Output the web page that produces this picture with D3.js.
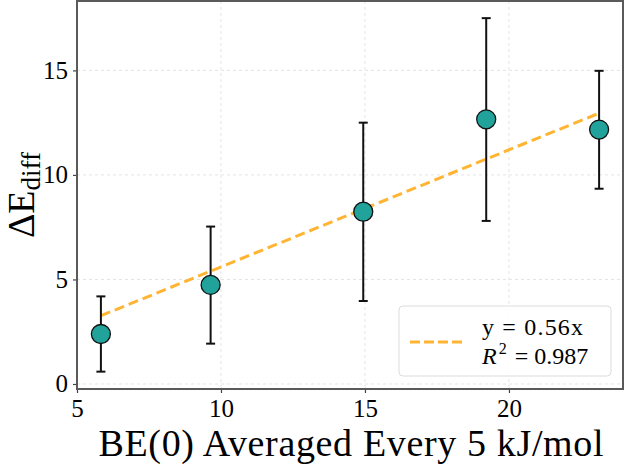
<!DOCTYPE html>
<html>
<head>
<meta charset="utf-8">
<script src="https://cdn.jsdelivr.net/npm/d3@7.9.0/dist/d3.min.js"></script>
<style>
  html, body { margin: 0; padding: 0; background: #fff; }
  svg text { font-family: "Liberation Serif", "Times New Roman", serif; fill: #000; }
</style>
</head>
<body>
<svg id="chart" width="625" height="464"></svg>
<script>
// ---- data ----
const beAvg   = [5.83, 9.64, 14.94, 19.21, 23.13];
const deltaE  = [2.39, 4.74, 8.24, 12.66, 12.17];
const errLow  = [0.59, 1.93, 3.97, 7.80, 9.34];
const errHigh = [4.19, 7.53, 12.50, 17.50, 14.98];
const slope = 0.56;
const xTicks = [5, 10, 15, 20];
const yTicks = [0, 5, 10, 15];
const legendLines = ['y = 0.56x', 'R2 = 0.987'];

const points = beAvg.map((x, i) => ({ x, y: deltaE[i], lo: errLow[i], hi: errHigh[i] }));

const svg = d3.select('#chart');
const plot = { left: 77, right: 623, top: 1, bottom: 389 };

const x = d3.scaleLinear().domain([5, 23.96]).range([plot.left, plot.right]);
const y = d3.scaleLinear().domain([-0.24, 18.32]).range([plot.bottom, plot.top]);

// gridlines
const grid = svg.append('g').attr('class', 'grid')
  .attr('stroke', '#e4e4e4').attr('stroke-width', 1).attr('stroke-dasharray', '3,3');
grid.selectAll('line.gx').data(xTicks).join('line')
  .attr('x1', d => x(d)).attr('x2', d => x(d))
  .attr('y1', plot.top).attr('y2', plot.bottom);
grid.selectAll('line.gy').data(yTicks).join('line')
  .attr('x1', plot.left).attr('x2', plot.right)
  .attr('y1', d => y(d)).attr('y2', d => y(d));

// fit line (orange dashed)
const fitX = d3.extent(beAvg);
svg.append('line')
  .attr('x1', x(fitX[0])).attr('y1', y(slope * fitX[0]))
  .attr('x2', x(fitX[1])).attr('y2', y(slope * fitX[1]))
  .attr('stroke', '#ffb533').attr('stroke-width', 3)
  .attr('stroke-dasharray', '10,5');

// error bars
const eb = svg.append('g').attr('stroke', '#111').attr('stroke-width', 2);
eb.selectAll('line.v').data(points).join('line')
  .attr('x1', d => x(d.x)).attr('x2', d => x(d.x))
  .attr('y1', d => y(d.lo)).attr('y2', d => y(d.hi));
eb.selectAll('line.capH').data(points).join('line')
  .attr('x1', d => x(d.x) - 4.5).attr('x2', d => x(d.x) + 4.5)
  .attr('y1', d => y(d.hi)).attr('y2', d => y(d.hi));
eb.selectAll('line.capL').data(points).join('line')
  .attr('x1', d => x(d.x) - 4.5).attr('x2', d => x(d.x) + 4.5)
  .attr('y1', d => y(d.lo)).attr('y2', d => y(d.lo));

// markers
svg.append('g').selectAll('circle').data(points).join('circle')
  .attr('cx', d => x(d.x)).attr('cy', d => y(d.y)).attr('r', 9.5)
  .attr('fill', '#21a39b').attr('stroke', '#111').attr('stroke-width', 1.3);

// axes
const xAxis = svg.append('g')
  .attr('transform', `translate(0,${plot.bottom})`)
  .call(d3.axisBottom(x).tickValues(xTicks).tickSize(4).tickPadding(6).tickFormat(d3.format('d')));
const yAxis = svg.append('g')
  .attr('transform', `translate(${plot.left},0)`)
  .call(d3.axisLeft(y).tickValues(yTicks).tickSize(4).tickPadding(5).tickFormat(d3.format('d')));
[xAxis, yAxis].forEach(a => {
  a.attr('font-family', null);
  a.select('.domain').remove();
  a.selectAll('.tick line').attr('stroke', '#444').attr('stroke-width', 1.2);
  a.selectAll('.tick text').attr('font-family', '"Liberation Serif", serif')
    .attr('font-size', 25).attr('fill', '#000');
});

// spines
svg.append('rect')
  .attr('x', plot.left).attr('y', plot.top)
  .attr('width', plot.right - plot.left).attr('height', plot.bottom - plot.top)
  .attr('fill', 'none').attr('stroke', '#5a5a5a').attr('stroke-width', 2);

// axis labels
svg.append('text')
  .attr('x', (plot.left + plot.right) / 2 + 1).attr('y', 456)
  .attr('text-anchor', 'middle').attr('font-size', 38)
  .attr('textLength', 505).attr('lengthAdjust', 'spacing')
  .text('BE(0) Averaged Every 5 kJ/mol');

const yl = svg.append('text')
  .attr('transform', `translate(34,${(plot.top + plot.bottom) / 2}) rotate(-90)`)
  .attr('text-anchor', 'middle').attr('font-size', 38);
yl.append('tspan').text('ΔE');
yl.append('tspan').attr('font-size', 27).attr('dy', 6).text('diff');

// legend
const lg = svg.append('g');
lg.append('rect')
  .attr('x', 399).attr('y', 306).attr('width', 212).attr('height', 70).attr('rx', 4)
  .attr('fill', '#fff').attr('fill-opacity', 0.85)
  .attr('stroke', '#dcdcdc').attr('stroke-width', 1);
lg.append('line')
  .attr('x1', 410).attr('x2', 462).attr('y1', 342).attr('y2', 342)
  .attr('stroke', '#ffb533').attr('stroke-width', 3).attr('stroke-dasharray', '10,4');
lg.append('text').attr('x', 482).attr('y', 335).attr('font-size', 24)
  .attr('textLength', 101).attr('lengthAdjust', 'spacing').text(legendLines[0]);
const r2 = lg.append('text').attr('x', 482).attr('y', 364).attr('font-size', 24);
r2.append('tspan').attr('font-style', 'italic').text('R');
r2.append('tspan').attr('font-size', 16).attr('dx', 2).attr('dy', -10).text('2');
r2.append('tspan').attr('dy', 10).attr('dx', 8).text('= 0.987');
</script>
</body>
</html>
